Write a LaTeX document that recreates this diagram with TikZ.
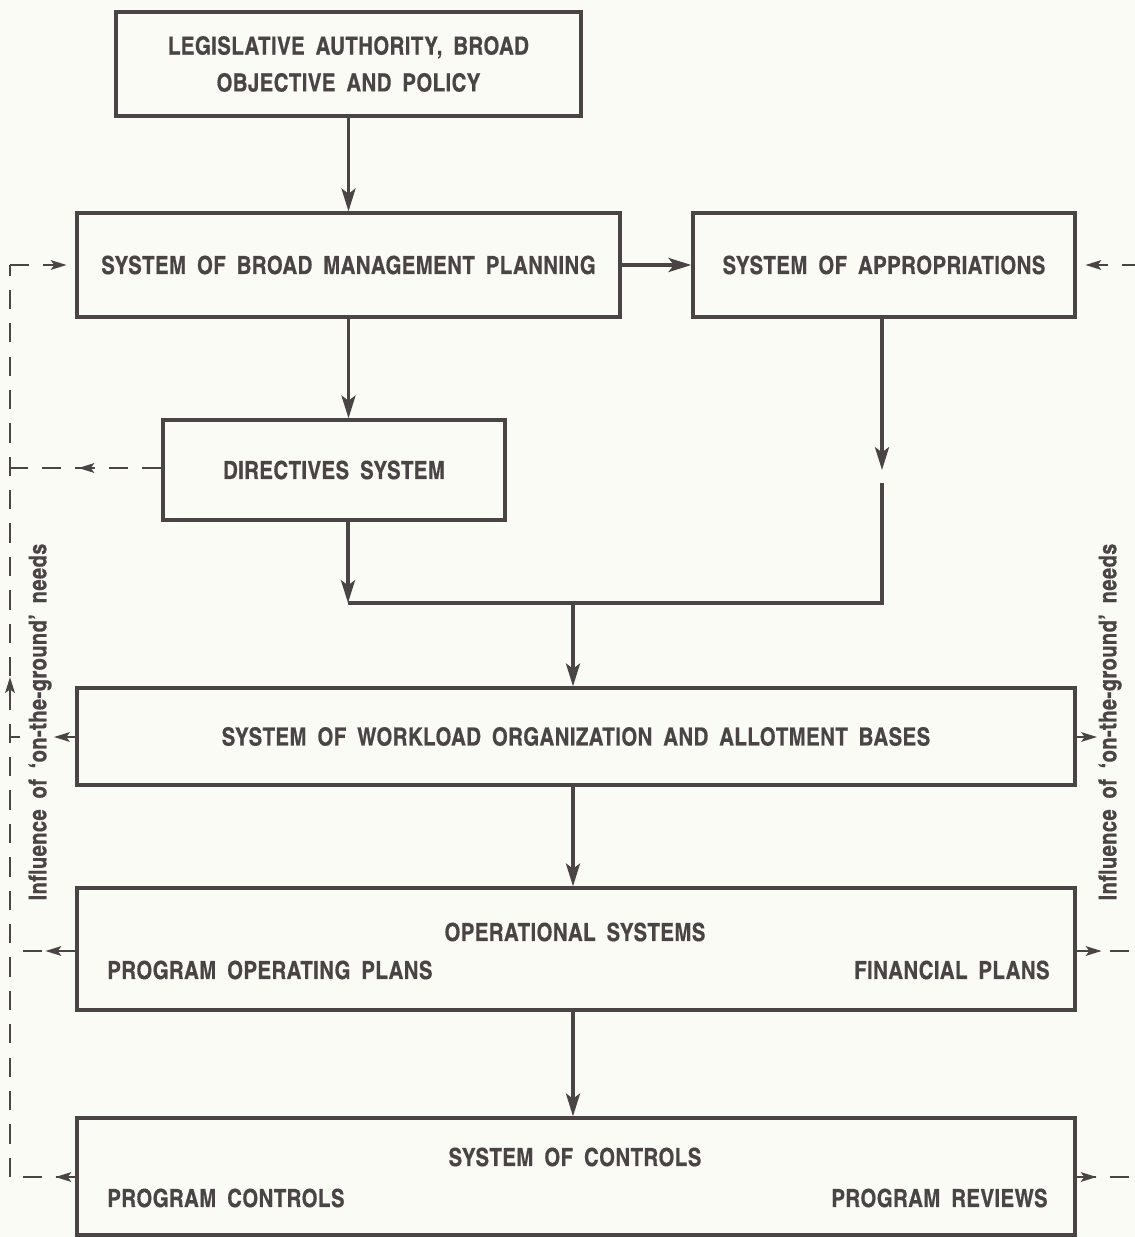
\documentclass[tikz,border=0pt]{standalone}
\usepackage{fontspec}
\setmainfont{texgyreheroscn-bold.otf}[LetterSpace=1.5, WordSpace=1.8, FakeBold=0.5]
\usetikzlibrary{arrows.meta,decorations.markings}
\definecolor{ink}{HTML}{4A4445}
\definecolor{paper}{HTML}{FBFBF6}
\begin{document}
\begin{tikzpicture}[x=0.02cm,y=-0.02cm,
 box/.style={draw=ink, line width=1.9pt, text=ink, font=\fontsize{14.2}{21}\selectfont, align=center, inner sep=0pt},
 lbl/.style={text=ink, font=\fontsize{14.2}{21}\selectfont, inner sep=0pt},
 flow/.style={draw=ink, line width=1.9pt, -{Stealth[length=13pt,width=8pt,inset=3pt]}},
 fline/.style={draw=ink, line width=1.9pt},
 dl/.style={draw=ink, line width=1.2pt, dash pattern=on 11pt off 8pt},
 sl/.style={draw=ink, line width=1.2pt},
 dtip/.style={-{Stealth[length=9pt,width=5.5pt,inset=2pt]}},
 marr/.style={postaction={decorate,decoration={markings,mark=at position #1 with {\arrow{Stealth[length=9pt,width=5.5pt,inset=2pt]}}}}},
 side/.style={text=ink, font=\fontsize{14}{16}\selectfont, rotate=90, inner sep=0pt}
]
\useasboundingbox (0,0) rectangle (1135,1237);
\fill[paper] (0,0) rectangle (1135,1237);
\clip (0,0) rectangle (1135,1237);

% boxes
\node[box, minimum width=9.3cm, minimum height=2.08cm] (b1) at (348.5,64) {LEGISLATIVE AUTHORITY, BROAD\\OBJECTIVE AND POLICY};
\node[box, minimum width=10.86cm, minimum height=2.08cm] (b2) at (348.5,265) {SYSTEM OF BROAD MANAGEMENT PLANNING};
\node[box, minimum width=7.64cm, minimum height=2.08cm] (b3) at (884,265) {SYSTEM OF APPROPRIATIONS};
\node[box, minimum width=6.84cm, minimum height=2.0cm] (b4) at (334,470) {DIRECTIVES SYSTEM};
\node[box, minimum width=19.96cm, minimum height=1.94cm] (b5) at (576,736.5) {SYSTEM OF WORKLOAD ORGANIZATION AND ALLOTMENT BASES};
\node[box, minimum width=19.96cm, minimum height=2.44cm] (b6) at (576,949) {};
\node[box, minimum width=19.96cm, minimum height=2.34cm] (b7) at (576,1176.5) {};

% box sub-texts
\node[lbl] (b6t) at (575,932) {OPERATIONAL SYSTEMS};
\node[lbl, anchor=west] (b6l) at (107,970) {PROGRAM OPERATING PLANS};
\node[lbl, anchor=east] (b6r) at (1050,970) {FINANCIAL PLANS};
\node[lbl] (b7t) at (575,1157) {SYSTEM OF CONTROLS};
\node[lbl, anchor=west] (b7l) at (107,1198) {PROGRAM CONTROLS};
\node[lbl, anchor=east] (b7r) at (1048,1198) {PROGRAM REVIEWS};

% side labels
\node[side] (sl) at (40,722) {Influence of `on-the-ground' needs};
\node[side] (sr) at (1110,722) {Influence of `on-the-ground' needs};

% junction coordinates
\coordinate (J1) at (348,603);
\coordinate (J2) at (882,603);
\coordinate (Jm) at (573,603);
\coordinate (A3) at (882,470);
\coordinate (A3b) at (882,483);

% main flow
\draw[flow] (b1.south) -- (b2.north);
\draw[flow] (b2.east) -- (b3.west);
\draw[flow] (b2.south) -- (b2.south |- b4.north);
\draw[flow] (b3.south -| A3) -- (A3);
\draw[fline] (A3b) -- (J2) -- (J1);
\draw[flow] (b4.south -| J1) -- (J1);
\draw[flow] (Jm) -- (b5.north -| Jm);
\draw[flow] (b5.south -| Jm) -- (b6.north -| Jm);
\draw[flow] (b6.south -| Jm) -- (b7.north -| Jm);

% left feedback
\coordinate (L1) at (10,265);
\coordinate (L4) at (10,468);
\coordinate (L5) at (10,737);
\coordinate (L5s) at (20,737);
\coordinate (L5a) at (54,737);
\coordinate (L6) at (10,951);
\coordinate (L7) at (10,1177);
\draw[dl, marr=0.4cm] (b7.west |- L7) -- (L7);
\draw[dl, marr=10.0cm] (L7) -- (L1);
\draw[dl, dtip, shorten >=5pt] (L1) -- (b2.west);
\draw[dl, marr=1.66cm] (b4.west |- L4) -- (L4);
\draw[sl, dtip] (b5.west |- L5) -- (L5a);
\draw[sl] (L5) -- (L5s);
\draw[dl, marr=0.6cm] (b6.west |- L6) -- (L6);

% right feedback
\coordinate (R1) at (1141,265);
\coordinate (R5a) at (1097,737);
\coordinate (R6) at (1141,951);
\coordinate (R7) at (1141,1177);
\draw[dl, marr=0.4cm] (b7.east |- R7) -- (R7);
\draw[sl, dtip] (b5.east |- R5a) -- (R5a);
\draw[dl, marr=0.5cm] (b6.east |- R6) -- (R6);
\draw[dl, marr=8.9cm] (R7) -- (R1);
\draw[dl, dtip, shorten >=5pt] (R1) -- (b3.east);
\end{tikzpicture}
\end{document}
